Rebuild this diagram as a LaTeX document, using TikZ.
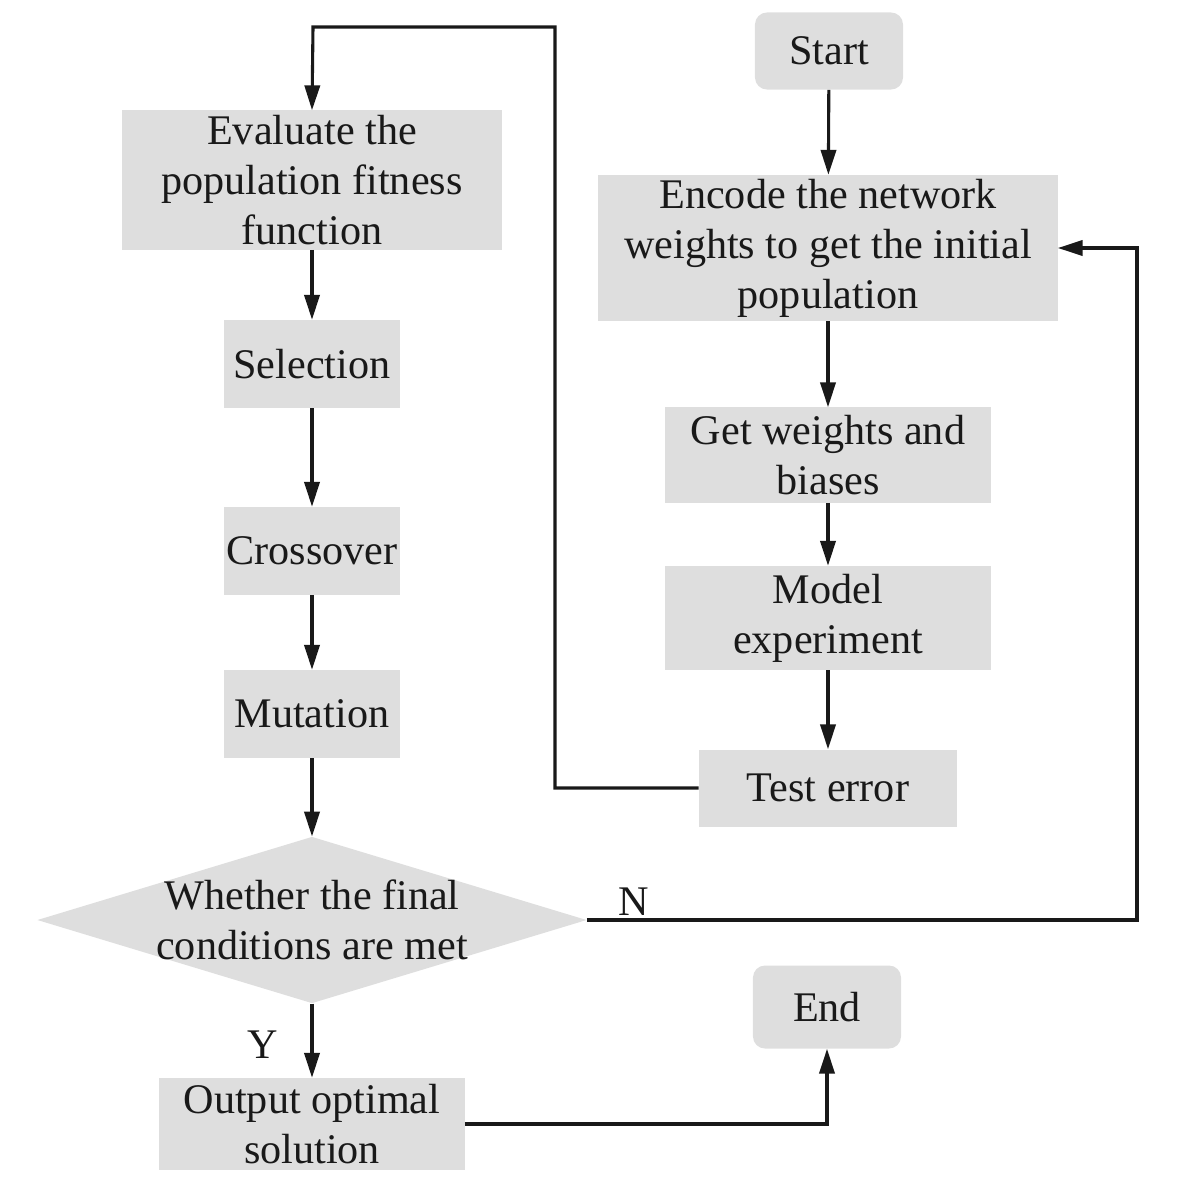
\documentclass[tikz,border=0pt]{standalone}
\usepackage{fontspec}
\setmainfont{Liberation Serif}
\usetikzlibrary{shapes.geometric,arrows.meta}

\begin{document}
\begin{tikzpicture}[
          x=0.025cm, y=-0.025cm,
          every node/.style={
            font=\fontsize{30}{35.5}\selectfont,
            text=black!90,
          },
          proc/.style={
            rectangle,
            fill=black!13,
            align=center,
            inner sep=0pt,
          },
          term/.style={
            proc,
            rounded corners=0.3cm,
          },
          decision/.style={
            diamond,
            fill=black!13,
            align=center,
            inner xsep=0pt,
            inner ysep=-0.1cm,
            aspect=3.3,
          },
          flow/.style={
            -{Triangle[length=0.62cm,width=0.38cm]},
            line width=2.2pt,
            black!90,
          },
        ]
          \useasboundingbox (0,0) rectangle (1200,1184);
          % right column
          \node[term, minimum width=3.7cm, minimum height=1.925cm](start) at (829,51){Start};
          \node[proc, minimum width=11.475cm, minimum height=3.65cm](encode) at (828,248){Encode the network\\weights to get the initial\\population};
          \node[proc, minimum width=8.125cm, minimum height=2.375cm](getw) at (828,455){Get weights and\\biases};
          \node[proc, minimum width=8.125cm, minimum height=2.6cm](model) at (828,618){Model\\experiment};
          \node[proc, minimum width=6.45cm, minimum height=1.925cm](test) at (828,788){Test error};
          % left column
          \node[proc, minimum width=9.5cm, minimum height=3.475cm](eval) at (312,180){Evaluate the\\population fitness\\function};
          \node[proc, minimum width=4.375cm, minimum height=2.2cm](sel) at (312,364){Selection};
          \node[proc, minimum width=4.375cm, minimum height=2.2cm](cross) at (312,551){Crossover};
          \node[proc, minimum width=4.375cm, minimum height=2.2cm](mut) at (312,714){Mutation};
          \node[decision](cond) at (312,920){Whether the final\\conditions are met};
          \node[proc, minimum width=7.625cm, minimum height=2.3cm](out) at (312,1124){Output optimal\\solution};
          \node[term, minimum width=3.7cm, minimum height=2.075cm](end) at (827,1007){End};
          % turning points
          \coordinate (loopa) at (555,788);
          \coordinate (loopb) at (555,27);
          \coordinate (loopc) at (313,27);
          \coordinate (noa) at (1137,920);
          \coordinate (nob) at (1137,248);
          \coordinate (outa) at (827,1124);
          \draw[flow] (start) -- (encode);
          \draw[flow] (encode) -- (getw);
          \draw[flow] (getw) -- (model);
          \draw[flow] (model) -- (test);
          \draw[flow] (test.west) -- (loopa) -- (loopb) -- (loopc) -- (eval.north);
          \draw[flow] (eval) -- (sel);
          \draw[flow] (sel) -- (cross);
          \draw[flow] (cross) -- (mut);
          \draw[flow] (mut) -- (cond.north);
          \draw[flow] (cond.south) -- node[left, xshift=-0.7cm, yshift=-0.1cm](ylab){Y} (out.north);
          \draw[flow] (cond.east) -- node[pos=0.085, above, yshift=-0.05cm](nlab){N} (noa) -- (nob) -- (encode.east);
          \draw[flow] (out.east) -- (outa) -- (end.south);
        \end{tikzpicture}
\end{document}
